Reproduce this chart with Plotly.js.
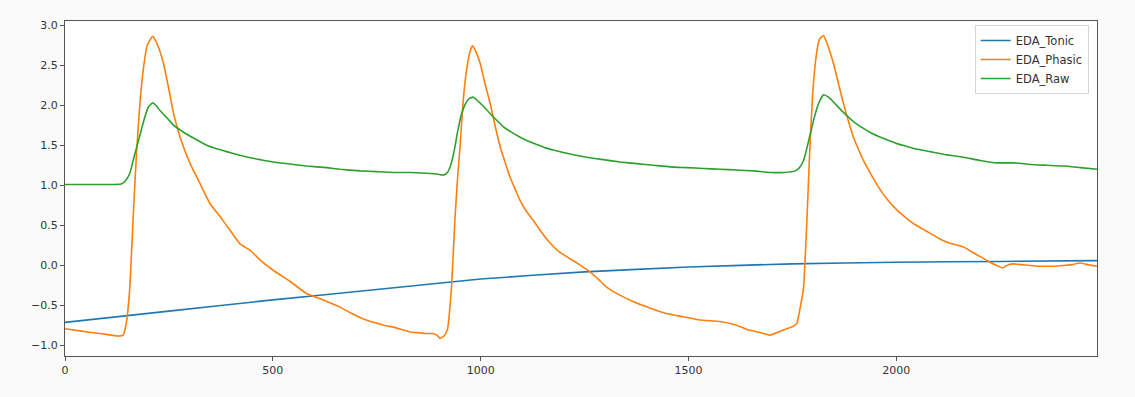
<!DOCTYPE html>
<html>
<head>
<meta charset="utf-8">
<script src="https://cdn.plot.ly/plotly-3.0.1.min.js"></script>
<style>
  html, body { margin: 0; padding: 0; background: #fafafa; }
  #chart { width: 1135px; height: 397px; }
</style>
</head>
<body>
<div id="chart"></div>
<script>
// EDA decomposition: slow tonic level, phasic responses and the raw signal
const seriesNames = ["EDA_Tonic", "EDA_Phasic", "EDA_Raw"];

const tonicX = [0, 250, 500, 750, 1000, 1250, 1500, 1750, 2000, 2250, 2483];
const tonicY = [-0.71, -0.57, -0.43, -0.30, -0.17, -0.08, -0.02, 0.02, 0.04, 0.05, 0.06];

const phasicX = [0, 40, 68, 100, 125, 140, 148, 156, 164, 172, 180, 188, 198, 211, 222, 237, 249, 261, 277, 301, 325, 349, 373, 397, 421, 445, 469, 501, 542, 581, 621, 662, 690, 710, 730, 750, 770, 790, 810, 830, 850, 870, 885, 895, 902, 912, 920, 930, 938, 944, 950, 958, 966, 975, 981, 990, 999, 1010, 1023, 1035, 1047, 1060, 1071, 1083, 1095, 1111, 1127, 1147, 1167, 1187, 1207, 1235, 1263, 1283, 1303, 1335, 1367, 1407, 1447, 1487, 1528, 1576, 1612, 1648, 1675, 1697, 1717, 1737, 1752, 1761, 1768, 1777, 1785, 1792, 1799, 1807, 1815, 1825, 1837, 1849, 1861, 1873, 1885, 1897, 1909, 1921, 1941, 1962, 1982, 2002, 2022, 2042, 2062, 2082, 2102, 2122, 2142, 2162, 2182, 2202, 2222, 2242, 2255, 2270, 2282, 2300, 2323, 2343, 2363, 2383, 2403, 2423, 2443, 2460, 2483];
const phasicY = [-0.79, -0.82, -0.84, -0.86, -0.88, -0.87, -0.70, -0.27, 0.60, 1.40, 2.00, 2.43, 2.75, 2.86, 2.76, 2.52, 2.22, 1.90, 1.60, 1.27, 1.02, 0.77, 0.61, 0.44, 0.27, 0.19, 0.07, -0.06, -0.20, -0.35, -0.43, -0.52, -0.60, -0.65, -0.69, -0.72, -0.75, -0.77, -0.80, -0.83, -0.84, -0.85, -0.85, -0.87, -0.91, -0.88, -0.80, -0.27, 0.56, 1.05, 1.45, 2.05, 2.43, 2.68, 2.74, 2.65, 2.52, 2.28, 2.02, 1.74, 1.48, 1.27, 1.10, 0.95, 0.81, 0.67, 0.56, 0.41, 0.28, 0.18, 0.11, 0.02, -0.08, -0.17, -0.27, -0.37, -0.45, -0.53, -0.60, -0.64, -0.68, -0.70, -0.74, -0.81, -0.84, -0.87, -0.83, -0.79, -0.76, -0.72, -0.55, -0.27, 0.56, 1.45, 2.15, 2.60, 2.82, 2.87, 2.72, 2.52, 2.27, 2.02, 1.80, 1.60, 1.45, 1.31, 1.12, 0.94, 0.80, 0.69, 0.60, 0.52, 0.46, 0.40, 0.34, 0.29, 0.26, 0.23, 0.17, 0.11, 0.05, 0.00, -0.03, 0.01, 0.02, 0.01, 0.00, -0.01, -0.01, -0.01, 0.00, 0.01, 0.03, 0.01, -0.01];

const rawX = [0, 60, 120, 137, 146, 156, 166, 180, 192, 201, 211, 220, 229, 249, 261, 289, 309, 341, 369, 389, 421, 449, 469, 501, 549, 582, 630, 662, 710, 750, 790, 830, 870, 895, 905, 912, 920, 928, 936, 944, 952, 962, 972, 981, 990, 1000, 1015, 1035, 1055, 1075, 1095, 1115, 1135, 1155, 1175, 1215, 1255, 1295, 1336, 1376, 1416, 1456, 1496, 1536, 1576, 1616, 1657, 1697, 1730, 1757, 1767, 1777, 1789, 1801, 1813, 1825, 1837, 1849, 1865, 1881, 1901, 1921, 1941, 1962, 1982, 2002, 2022, 2042, 2082, 2122, 2162, 2202, 2242, 2282, 2323, 2363, 2403, 2443, 2483];
const rawY = [1.01, 1.01, 1.01, 1.02, 1.06, 1.15, 1.35, 1.62, 1.85, 1.98, 2.03, 1.99, 1.93, 1.82, 1.75, 1.65, 1.59, 1.50, 1.45, 1.42, 1.375, 1.34, 1.32, 1.29, 1.26, 1.24, 1.22, 1.20, 1.18, 1.17, 1.16, 1.16, 1.15, 1.14, 1.13, 1.13, 1.16, 1.25, 1.42, 1.65, 1.85, 2.00, 2.08, 2.10, 2.07, 2.02, 1.94, 1.83, 1.73, 1.66, 1.60, 1.55, 1.51, 1.47, 1.44, 1.39, 1.35, 1.32, 1.29, 1.27, 1.25, 1.23, 1.22, 1.21, 1.20, 1.19, 1.18, 1.16, 1.16, 1.18, 1.22, 1.31, 1.55, 1.81, 2.02, 2.13, 2.10, 2.04, 1.95, 1.87, 1.78, 1.71, 1.65, 1.60, 1.56, 1.52, 1.49, 1.46, 1.42, 1.38, 1.35, 1.31, 1.28, 1.28, 1.26, 1.25, 1.24, 1.22, 1.20];

const xTicks = [0, 500, 1000, 1500, 2000];
const yTicks = [-1.0, -0.5, 0.0, 0.5, 1.0, 1.5, 2.0, 2.5, 3.0];

const colors = ["#1f77b4", "#ff7f0e", "#2ca02c"];
const font = { family: "DejaVu Sans, sans-serif", size: 11, color: "#333" };

function lineTrace(name, x, y, color) {
  return {
    type: "scatter", mode: "lines", name: name, x: x, y: y,
    line: { color: color, width: 1.6, shape: "spline", smoothing: 0.4 },
    hoverinfo: "skip"
  };
}

const traces = [
  lineTrace(seriesNames[0], tonicX, tonicY, colors[0]),
  lineTrace(seriesNames[1], phasicX, phasicY, colors[1]),
  lineTrace(seriesNames[2], rawX, rawY, colors[2])
];

const axisCommon = {
  showline: true, mirror: true, linecolor: "#555", linewidth: 1,
  ticks: "outside", ticklen: 4, tickcolor: "#555", tickwidth: 1,
  showgrid: false, zeroline: false, tickfont: font
};

const layout = {
  width: 1135, height: 397,
  margin: { l: 65, r: 38, t: 21, b: 41 },
  paper_bgcolor: "#fafafa", plot_bgcolor: "#ffffff",
  font: font,
  showlegend: true,
  legend: {
    x: 0.992, xanchor: "right", y: 0.988, yanchor: "top",
    bgcolor: "rgba(255,255,255,0.85)", bordercolor: "#d6d6d6", borderwidth: 1,
    font: { family: "DejaVu Sans, sans-serif", size: 11.5, color: "#333" },
    tracegroupgap: 0
  },
  xaxis: Object.assign({}, axisCommon, {
    range: [0, 2483], tickvals: xTicks, ticktext: xTicks.map(String)
  }),
  yaxis: Object.assign({}, axisCommon, {
    range: [-1.13, 3.05], tickvals: yTicks, tickformat: ".1f"
  })
};

Plotly.newPlot("chart", traces, layout, { staticPlot: true, displayModeBar: false });
</script>
</body>
</html>
